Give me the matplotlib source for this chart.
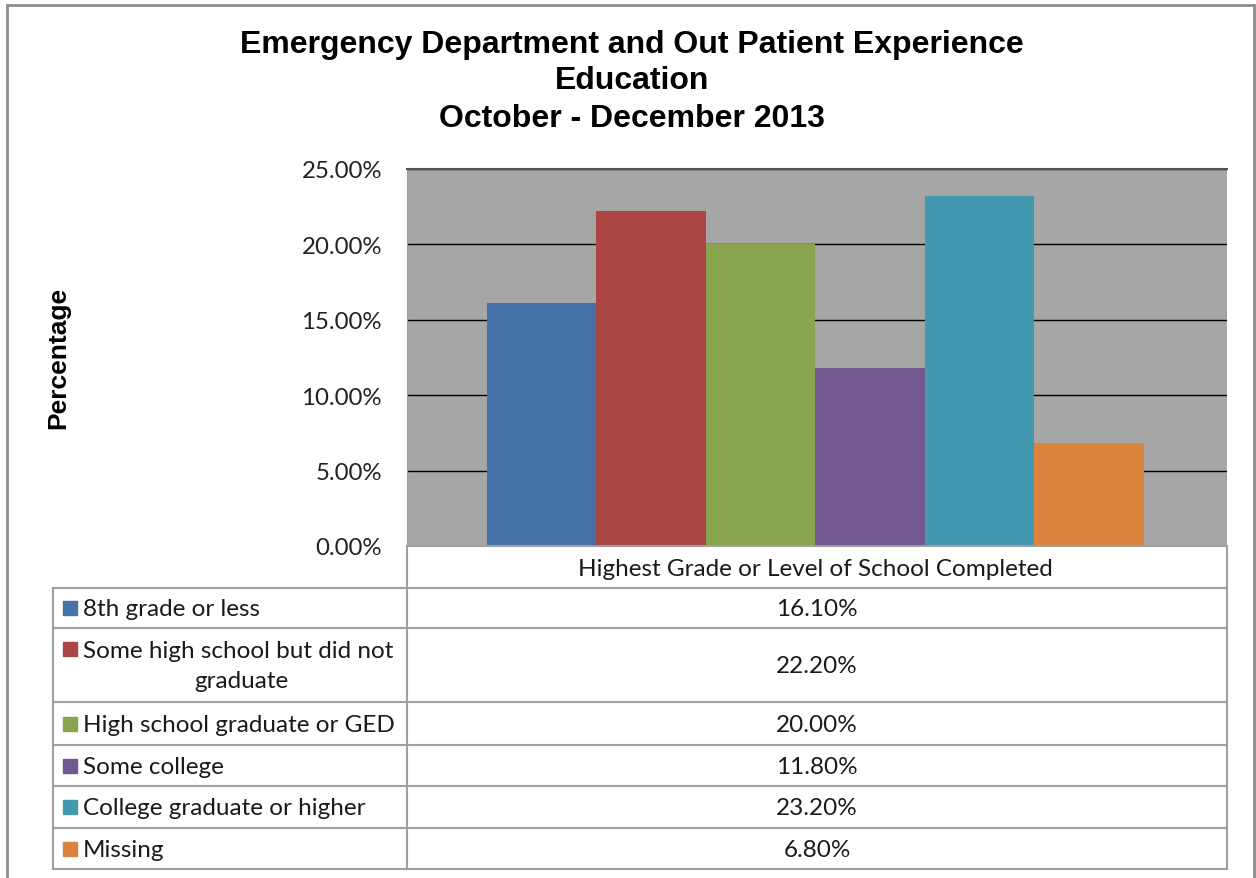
import matplotlib
matplotlib.use("Agg")
import matplotlib.pyplot as plt
from matplotlib.patches import Rectangle
from matplotlib.lines import Line2D
from matplotlib.ticker import FuncFormatter, MultipleLocator

categories = ["8th grade or less", "Some high school but did not\ngraduate",
              "High school graduate or GED", "Some college",
              "College graduate or higher", "Missing"]
values = [16.10, 22.20, 20.00, 11.80, 23.20, 6.80]
colors = ["#4572A7", "#AA4643", "#89A54E", "#71588F", "#4198AF", "#DB843D"]
title_lines = ["Emergency Department and Out Patient Experience", "Education",
               "October - December 2013"]
x_label = "Highest Grade or Level of School Completed"
y_label = "Percentage"

W, H = 1256, 879
fig = plt.figure(figsize=(W / 100, H / 100), dpi=100)

def fx(px):
    return px / W

def fy(py):
    return 1 - py / H

# outer frame (bottom edge lies outside the image)
fig.patches.append(Rectangle((fx(7), fy(890)), fx(1254) - fx(7), fy(6) - fy(890),
                             transform=fig.transFigure, fill=False,
                             edgecolor="#8C8C8C", lw=2.0, clip_on=False))

L, R, T, B = 407, 1227, 170, 547
ax = fig.add_axes([fx(L), fy(B), fx(R) - fx(L), fy(T) - fy(B)])
ax.set_facecolor("#A6A6A6")
xs = list(range(len(values)))
ax.bar(xs, values, width=1.0, color=colors, zorder=3)
ax.set_xlim(-1.23, 6.26)
ax.set_ylim(0, 25)
ax.yaxis.set_major_locator(MultipleLocator(5))
ax.yaxis.set_major_formatter(FuncFormatter(lambda v, p: f"{v:.2f}%"))
ax.grid(axis="y", color="black", lw=1.0, zorder=1)
ax.set_axisbelow(True)
ax.tick_params(axis="y", length=0, pad=18, labelsize=17.3, labelcolor="#222222")
ax.tick_params(axis="x", length=0, labelbottom=False)
for lab in ax.get_yticklabels():
    lab.set_fontfamily("Lato")
for s in ["right", "bottom"]:
    ax.spines[s].set_visible(False)
ax.spines["left"].set_color("#A0A0A0")
ax.spines["top"].set_color("#505050")
ax.spines["top"].set_linewidth(1.5)

# title
tys = [45, 81, 119]
for t, y in zip(title_lines, tys):
    fig.text(fx(632), fy(y), t, ha="center", va="center", fontsize=23,
             fontweight="bold", family="Liberation Sans")

fig.text(fx(58), fy(358), y_label, rotation=90, ha="center", va="center",
         fontsize=19, fontweight="bold", family="Liberation Sans")

# table
gc = "#A0A0A0"
rows = [547, 589, 629, 703, 746, 787, 829, 870]
TL = 53

def hline(y, x0, x1):
    fig.add_artist(Line2D([fx(x0), fx(x1)], [fy(y), fy(y)], color=gc, lw=1.5,
                          transform=fig.transFigure))

def vline(x, y0, y1):
    fig.add_artist(Line2D([fx(x), fx(x)], [fy(y0), fy(y1)], color=gc, lw=1.5,
                          transform=fig.transFigure))

hline(rows[0], L, R)
for y in rows[1:]:
    hline(y, TL, R)
vline(L, rows[0], rows[-1])
vline(R, rows[0], rows[-1])
vline(TL, rows[1], rows[-1])

fs = 17.5
tc = "#1A1A1A"
fig.text(fx(815), fy((rows[0] + rows[1]) / 2 + 1), x_label, ha="center",
         va="center", fontsize=fs, family="Lato", color=tc)

for i, (cat, val, col) in enumerate(zip(categories, values, colors)):
    y0, y1 = rows[i + 1], rows[i + 2]
    yc = (y0 + y1) / 2
    fig.text(fx(817), fy(yc + 1), f"{val:.2f}%", ha="center", va="center",
             fontsize=fs, family="Lato", color=tc)
    lines = cat.split("\n")
    ya = yc if len(lines) == 1 else y0 + 21
    fig.patches.append(Rectangle((fx(63), fy(ya + 7)), fx(14), fy(0) - fy(14),
                                 transform=fig.transFigure, color=col))
    fig.text(fx(83), fy(ya + 1), lines[0], ha="left", va="center", fontsize=fs,
             family="Lato", color=tc)
    if len(lines) > 1:
        fig.text(fx(241), fy(ya + 32), lines[1], ha="center", va="center",
                 fontsize=fs, family="Lato", color=tc)

fig.savefig("out.png", dpi=100)
